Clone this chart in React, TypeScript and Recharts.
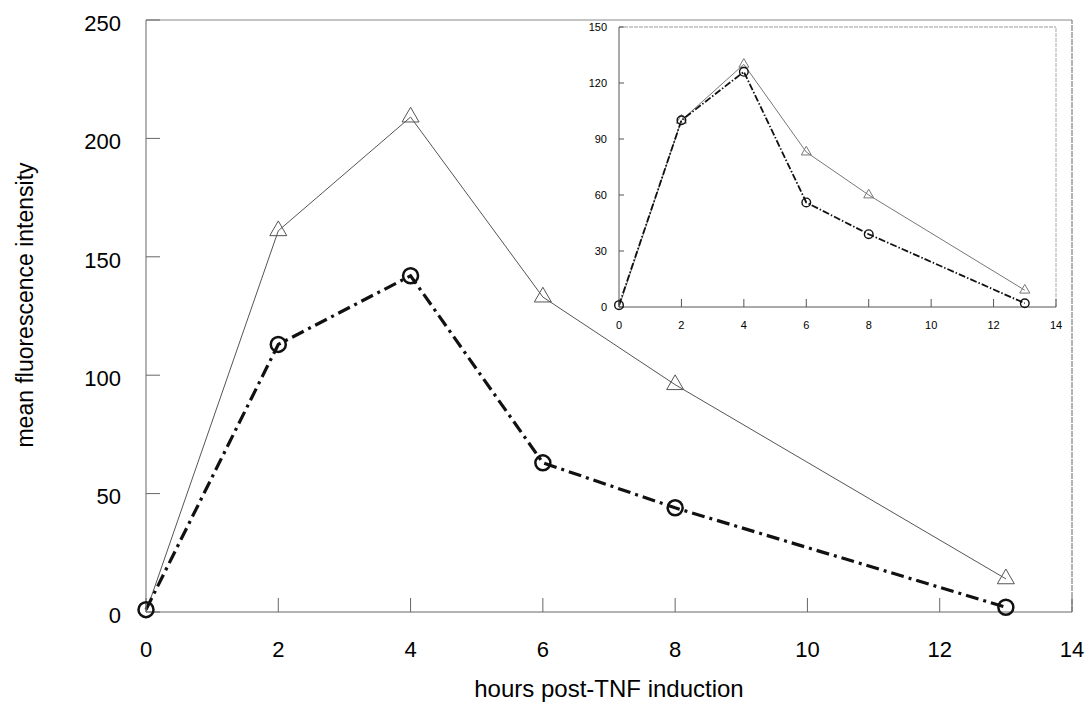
import { LineChart, Line, XAxis, YAxis, ReferenceLine } from "recharts";

const hours = [0, 2, 4, 6, 8, 13];
const mainTriangle = [0, 161, 209, 133, 96, 14];
const mainCircle = [1, 113, 142, 63, 44, 2];
const insetTriangle = [0, 100, 130, 83, 60, 9];
const insetCircle = [1, 100, 126, 56, 39, 2];

const mainXTicks = [0, 2, 4, 6, 8, 10, 12, 14];
const mainYTicks = [0, 50, 100, 150, 200, 250];
const insetYTicks = [0, 30, 60, 90, 120, 150];

const mainData = hours.map((h, i) => ({ hours: h, tri: mainTriangle[i], circ: mainCircle[i] }));
const insetData = hours.map((h, i) => ({ hours: h, tri: insetTriangle[i], circ: insetCircle[i] }));

const font = "'Liberation Sans', Arial, Helvetica, sans-serif";

const triangleDot = (size: number, stroke: string, sw: number) => (props: any) => {
  const { cx, cy, index } = props;
  if (index === 0 || cx == null || cy == null) return <g key={`t-${index}`} />;
  const h = size * 0.866;
  const pts = `${cx - size / 2},${cy + h / 3} ${cx + size / 2},${cy + h / 3} ${cx},${cy - (2 * h) / 3}`;
  return <polygon key={`t-${index}`} points={pts} fill="none" stroke={stroke} strokeWidth={sw} />;
};

const circleDot = (r: number, sw: number) => (props: any) => {
  const { cx, cy, index } = props;
  if (cx == null || cy == null) return <g key={`c-${index}`} />;
  return <circle key={`c-${index}`} cx={cx} cy={cy} r={r} fill="none" stroke="#111" strokeWidth={sw} />;
};

// rotated y title, nudged a little above the plot's middle like the original
const YTitle = (props: any) => {
  const { viewBox } = props;
  const x = viewBox.x + 25;
  const y = viewBox.y + viewBox.height / 2 - 11;
  return (
    <text
      x={x}
      y={y}
      transform={`rotate(-90, ${x}, ${y})`}
      textAnchor="middle"
      dominantBaseline="central"
      fill="#000"
      fontSize={23}
      fontFamily={font}
    >
      mean fluorescence intensity
    </text>
  );
};

const App = () => {
  return (
    <div style={{ position: "absolute", left: 0, top: 0, width: 1088, height: 709, background: "#fff", fontFamily: font }}>
      <LineChart width={1088} height={709} data={mainData} margin={{ top: 20, right: 16, bottom: 37, left: 0 }}>
        <XAxis
          dataKey="hours"
          type="number"
          domain={[0, 14]}
          ticks={mainXTicks}
          height={60}
          tickSize={-14}
          tickMargin={43}
          stroke="#666"
          tick={{ fill: "#000", fontSize: 22, fontFamily: font }}
          label={{ value: "hours post-TNF induction", position: "bottom", offset: 8, fill: "#000", fontSize: 24, fontFamily: font }}
        />
        <YAxis
          type="number"
          domain={[0, 250]}
          ticks={mainYTicks}
          width={146}
          tickSize={-14}
          tickMargin={39}
          stroke="#666"
          tick={{ fill: "#000", fontSize: 22, fontFamily: font, dy: 3 }}
          label={<YTitle />}
        />
        <ReferenceLine y={250} stroke="#888" strokeWidth={1} />
        <ReferenceLine x={14} stroke="#666" strokeWidth={1} strokeDasharray="6 1" />
        <Line
          dataKey="tri"
          stroke="#555"
          strokeWidth={1}
          dot={triangleDot(17, "#555", 1)}
          isAnimationActive={false}
        />
        <Line
          dataKey="circ"
          stroke="#111"
          strokeWidth={3.2}
          strokeDasharray="13 5 3 5"
          dot={circleDot(7.5, 2.5)}
          isAnimationActive={false}
        />
      </LineChart>

      <div style={{ position: "absolute", left: 560, top: 10 }}>
        <LineChart width={512} height={340} data={insetData} margin={{ top: 17, right: 16, bottom: 13, left: 0 }}>
          <XAxis
            dataKey="hours"
            type="number"
            domain={[0, 14]}
            ticks={mainXTicks}
            height={30}
            tickSize={-8}
            tickMargin={22}
            stroke="#555"
            tick={{ fill: "#000", fontSize: 11, fontFamily: font }}
          />
          <YAxis
            type="number"
            domain={[0, 150]}
            ticks={insetYTicks}
            width={59}
            tickSize={-5}
            tickMargin={17}
            stroke="#555"
            tick={{ fill: "#000", fontSize: 11, fontFamily: font }}
          />
          <ReferenceLine y={150} stroke="#999" strokeWidth={1} strokeDasharray="4 1" />
          <ReferenceLine x={14} stroke="#aaa" strokeWidth={1} strokeDasharray="4 1" />
          <Line
            dataKey="tri"
            stroke="#777"
            strokeWidth={1}
            dot={triangleDot(10, "#777", 1)}
            isAnimationActive={false}
          />
          <Line
            dataKey="circ"
            stroke="#111"
            strokeWidth={1.8}
            strokeDasharray="7 2 1.5 2"
            dot={circleDot(4.3, 1.4)}
            isAnimationActive={false}
          />
        </LineChart>
      </div>
    </div>
  );
};

export default App;
